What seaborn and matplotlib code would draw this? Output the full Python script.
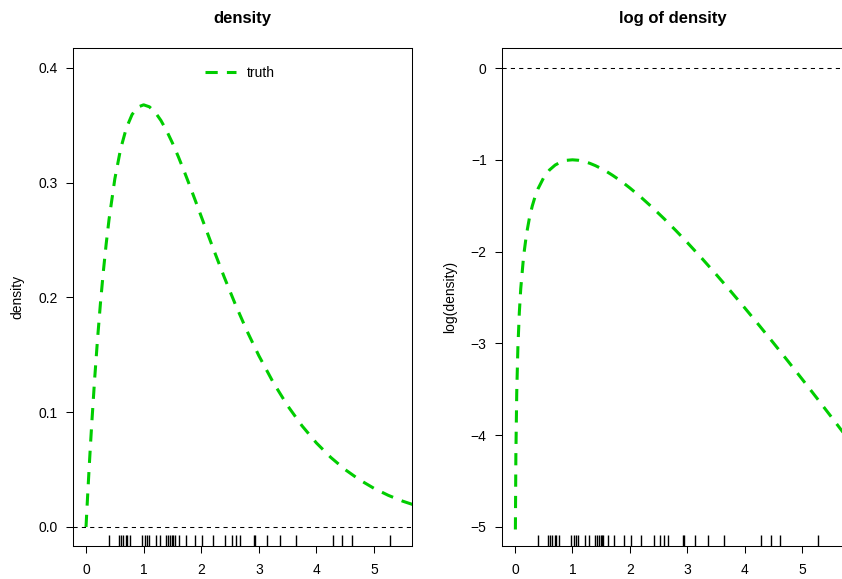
import numpy as np
import pandas as pd
import matplotlib
matplotlib.use("Agg")
import matplotlib.pyplot as plt
import seaborn as sns

# true density evaluated on a grid
x_grid = [0.0, 0.0066, 0.015, 0.03, 0.05, 0.075, 0.1, 0.15, 0.2, 0.25, 0.3, 0.35,
          0.4, 0.5, 0.6, 0.7, 0.8, 0.9, 1.0, 1.1, 1.2, 1.3, 1.4, 1.5, 1.6, 1.7,
          1.8, 1.9, 2.0, 2.2, 2.4, 2.6, 2.8, 3.0, 3.25, 3.5, 3.75, 4.0, 4.25,
          4.5, 4.75, 5.0, 5.25, 5.5, 5.75]
density_truth = [0.0, 0.006557, 0.014777, 0.029113, 0.047561, 0.069581, 0.090484,
                 0.129106, 0.163746, 0.194700, 0.222245, 0.246641, 0.268128,
                 0.303265, 0.329287, 0.347610, 0.359463, 0.365913, 0.367879,
                 0.366158, 0.361433, 0.354291, 0.345236, 0.334695, 0.323034,
                 0.310562, 0.297538, 0.284180, 0.270671, 0.243767, 0.217723,
                 0.193111, 0.170268, 0.149361, 0.126016, 0.105691, 0.088191,
                 0.073263, 0.060623, 0.049990, 0.041095, 0.033690, 0.027549,
                 0.022477, 0.018301]

# observed sample (rug)
sample = [0.40, 0.57, 0.61, 0.65, 0.69, 0.72, 0.77, 0.98, 1.02, 1.06, 1.10, 1.21,
          1.28, 1.39, 1.43, 1.46, 1.49, 1.51, 1.54, 1.62, 1.73, 1.89, 2.02, 2.20,
          2.42, 2.53, 2.60, 2.67, 2.92, 2.94, 3.14, 3.36, 3.64, 4.29, 4.45, 4.62,
          5.27]

left_ticks = [0.0, 0.1, 0.2, 0.3, 0.4]
right_ticks = [-5, -4, -3, -2, -1, 0]
x_ticks = [0, 1, 2, 3, 4, 5]

sns.set_style("ticks")
plt.rcParams["font.family"] = ["Liberation Sans", "DejaVu Sans"]
plt.rcParams["axes.linewidth"] = 0.75
for key in ("text.color", "axes.labelcolor", "xtick.color", "ytick.color",
            "axes.edgecolor"):
    plt.rcParams[key] = "black"

df = pd.DataFrame({"x": x_grid, "density": density_truth})
with np.errstate(divide="ignore"):
    df["logdens"] = np.log(df["density"])
rug = pd.DataFrame({"x": sample})

green = "#00CD00"
W, H = 842, 579
fig = plt.figure(figsize=(W / 100, H / 100), dpi=100)
ax1 = fig.add_axes([73 / W, (H - 546) / H, 339 / W, 498 / H])
ax2 = fig.add_axes([502 / W, (H - 546) / H, 341 / W, 498 / H])

line_kw = dict(color=green, lw=2.2, dashes=(4, 3), sort=False, estimator=None)

# left: density
sns.lineplot(data=df, x="x", y="density", ax=ax1, label="truth", **line_kw)
ax1.axhline(0, color="black", lw=0.75, linestyle=(0, (4, 4)))
sns.rugplot(data=rug, x="x", ax=ax1, height=0.022, color="black", lw=0.9)
ax1.set_xlim(-0.226, 5.66)
ax1.set_ylim(-0.01656, 0.4174)
ax1.set_yticks(left_ticks)
ax1.set_yticklabels([f"{t:.1f}" for t in left_ticks])
ax1.set_ylabel("density", fontsize=10, labelpad=10)
ax1.set_title("density", fontsize=12, fontweight="bold", pad=18)
ax1.legend(loc="center left", bbox_to_anchor=(0.39, 0.95), frameon=False,
           fontsize=10, handlelength=2.2, handletextpad=0.8, borderpad=0,
           borderaxespad=0)

# right: log density
sns.lineplot(data=df[df["x"] > 0], x="x", y="logdens", ax=ax2, **line_kw)
ax2.axhline(0, color="black", lw=0.75, linestyle=(0, (4, 4)))
sns.rugplot(data=rug, x="x", ax=ax2, height=0.022, color="black", lw=0.9)
ax2.set_xlim(-0.2265, 5.71)
ax2.set_ylim(-5.207, 0.218)
ax2.set_yticks(right_ticks)
ax2.set_ylabel("log(density)", fontsize=10, labelpad=10)
ax2.set_title("log of density", fontsize=12, fontweight="bold", pad=18)

for ax in (ax1, ax2):
    ax.set_xticks(x_ticks)
    ax.set_xlabel("")
    ax.tick_params(axis="x", length=5, width=0.75, pad=7.5, labelsize=10)
    ax.tick_params(axis="y", length=5, width=0.75, pad=6, labelsize=10)
    for s in ax.spines.values():
        s.set_visible(True)
        s.set_color("black")
        s.set_linewidth(0.75)

fig.savefig("out.png", dpi=100)
